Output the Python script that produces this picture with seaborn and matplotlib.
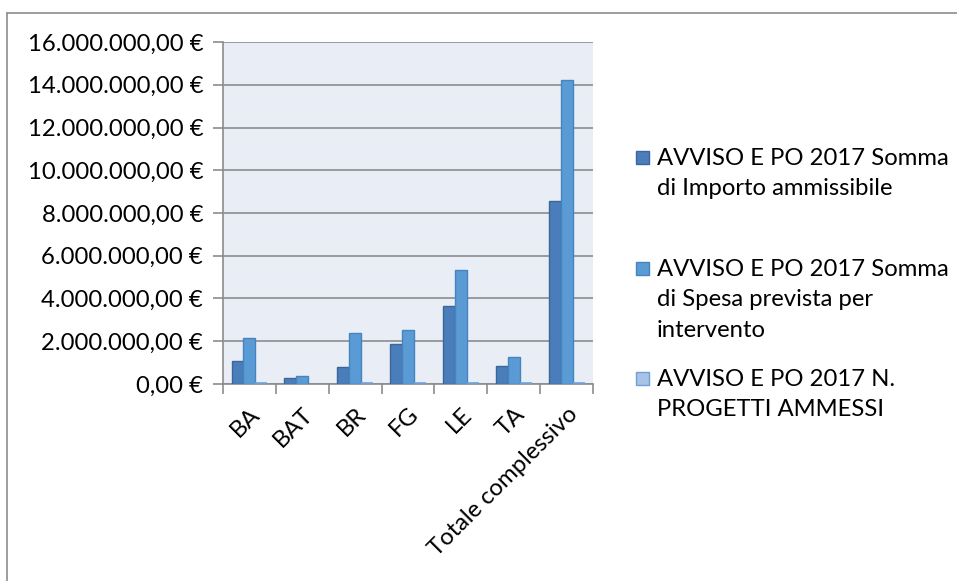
import numpy as np
import pandas as pd
import matplotlib
matplotlib.use("Agg")
import matplotlib.pyplot as plt
import seaborn as sns
from matplotlib.ticker import FuncFormatter, FixedLocator
from matplotlib.patches import Rectangle
from matplotlib.lines import Line2D

categories = ["BA", "BAT", "BR", "FG", "LE", "TA", "Totale complessivo"]
importo_ammissibile = [1090000, 300000, 780000, 1870000, 3660000, 840000, 8560000]
spesa_prevista = [2150000, 360000, 2400000, 2530000, 5330000, 1260000, 14220000]
n_progetti = [30, np.nan, 25, 28, 60, 20, 163]
series_names = [
    "AVVISO E PO 2017 Somma\ndi Importo ammissibile",
    "AVVISO E PO 2017 Somma\ndi Spesa prevista per\nintervento",
    "AVVISO E PO 2017 N.\nPROGETTI AMMESSI",
]
y_ticks = [0, 2000000, 4000000, 6000000, 8000000, 10000000, 12000000, 14000000, 16000000]

fills = ["#4A7EBB", "#5B9BD5", "#A7C3E7"]
edges = ["#3B6699", "#4684BE", "#6F9FD6"]

rows = []
for s, vals in zip(series_names, [importo_ammissibile, spesa_prevista, n_progetti]):
    for c, v in zip(categories, vals):
        rows.append({"cat": c, "serie": s, "val": v})
df = pd.DataFrame(rows)

sns.set_theme(style="white")
plt.rcParams["font.family"] = ["Lato", "DejaVu Sans"]

FS = 17.2

fig = plt.figure(figsize=(9.57, 5.81), dpi=100)
ax = fig.add_axes([0.2327, 0.3391, 0.3873, 0.5886])
ax.set_facecolor("#E9EDF5")

sns.barplot(data=df, x="cat", y="val", hue="serie", hue_order=series_names,
            order=categories, palette=fills, width=0.667, gap=0,
            errorbar=None, ax=ax, legend=False, saturation=1)
for i, (cont, ec) in enumerate(zip(ax.containers, edges)):
    for p in cont:
        p.set_edgecolor(ec)
        p.set_linewidth(1.0 if i < 2 else 2.6)
        p.set_zorder(3)

ax.set_ylim(0, 16000000)
ax.set_xlim(-0.5, len(categories) - 0.5)
ax.set_yticks(y_ticks)
ax.yaxis.set_major_formatter(FuncFormatter(
    lambda v, p: f"{v:,.2f}".replace(",", "X").replace(".", ",").replace("X", ".") + " €"))
ax.grid(axis="y", color="#8C8C8C", linewidth=1.2)
ax.set_axisbelow(True)
ax.set_xlabel("")
ax.set_ylabel("")

for s in ["top", "right"]:
    ax.spines[s].set_visible(False)
for s in ["left", "bottom"]:
    ax.spines[s].set_color("#8C8C8C")
    ax.spines[s].set_linewidth(1.2)

ax.tick_params(axis="y", which="major", length=7, width=1.2, color="#8C8C8C",
               labelsize=FS, labelcolor="#000000", left=True, pad=7)
ax.xaxis.set_minor_locator(FixedLocator(np.arange(-0.5, len(categories), 1.0)))
ax.tick_params(axis="x", which="minor", length=7, width=1.2, color="#8C8C8C", bottom=True)
ax.tick_params(axis="x", which="major", length=0, labelsize=FS, labelcolor="#000000", pad=14)
plt.setp(ax.get_xticklabels(), rotation=45, ha="right", rotation_mode="anchor")

# legend (manual)
legend_centers = [157, 268, 378]
H = 581.0
W = 957.0
for name, fc, ec, yc in zip(series_names, fills, edges, legend_centers):
    fig.patches.append(Rectangle((636 / W, 1 - (yc + 6.5) / H), 13 / W, 13 / H,
                                 transform=fig.transFigure, facecolor=fc,
                                 edgecolor=ec, linewidth=1.0))
    fig.text(657 / W, 1 - (yc - 9) / H, name, fontsize=FS, va="top", ha="left",
             linespacing=1.55, color="#000000")

# outer frame (top and left visible)
fig.add_artist(Line2D([6.5 / W, 1.0], [1 - 12.5 / H, 1 - 12.5 / H],
                      transform=fig.transFigure, color="#8C8C8C", linewidth=1.2))
fig.add_artist(Line2D([6.5 / W, 6.5 / W], [1 - 12.5 / H, 0.0],
                      transform=fig.transFigure, color="#8C8C8C", linewidth=1.2))

fig.savefig("out.png", dpi=100, facecolor="white")
